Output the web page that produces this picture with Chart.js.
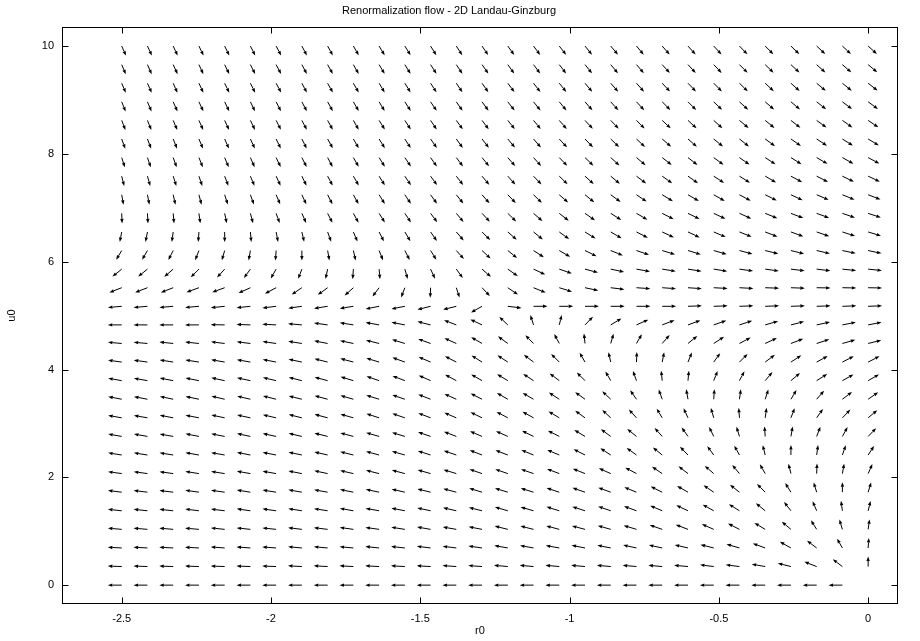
<!DOCTYPE html>
<html>
<head>
<meta charset="utf-8">
<script src="https://cdn.jsdelivr.net/npm/chart.js@4.4.1/dist/chart.umd.min.js"></script>
<style>
html, body { margin: 0; padding: 0; background: #fff; }
#wrap { width: 920px; height: 641px; }
</style>
</head>
<body>
<div id="wrap"><canvas id="grafico" width="920" height="641"></canvas></div>
<script>
// grid of the flow (r0 across, u0 up)
const rVals = [-2.5, -2.4138, -2.3276, -2.2414, -2.1552, -2.069, -1.9828, -1.8966, -1.8103, -1.7241,
  -1.6379, -1.5517, -1.4655, -1.3793, -1.2931, -1.2069, -1.1207, -1.0345, -0.9483, -0.8621,
  -0.7759, -0.6897, -0.6034, -0.5172, -0.431, -0.3448, -0.2586, -0.1724, -0.0862, 0];
const uVals = [0, 0.3448, 0.6897, 1.0345, 1.3793, 1.7241, 2.069, 2.4138, 2.7586, 3.1034,
  3.4483, 3.7931, 4.1379, 4.4828, 4.8276, 5.1724, 5.5172, 5.8621, 6.2069, 6.5517,
  6.8966, 7.2414, 7.5862, 7.931, 8.2759, 8.6207, 8.9655, 9.3103, 9.6552, 10];

// arrow direction (degrees, as seen on the plot) for each row of u0, left to right
const dir_u00 = [180,180,180,180,180,180,180,180,180,180,180,180,180,180,180,180,180,180,180,180,180,180,180,180,180,180,180,180,180,null];
const dir_u01 = [178,178,178,178,178,178,178,177,177,177,177,177,177,176,176,175,175,175,175,175,175,175,175,173,173,170,166,159,143,90];
const dir_u02 = [177,177,177,177,176,176,176,175,175,175,174,174,173,173,172,170,170,170,169,169,168,168,167,166,164,160,151,143,120,86];
const dir_u03 = [175,175,175,175,174,174,174,173,173,172,172,171,170,170,169,166,166,165,165,164,163,161,159,156,153,149,140,122,107,82];
const dir_u04 = [174,174,174,173,173,172,172,171,171,170,170,169,168,167,166,164,164,163,162,161,160,157,155,151,148,141,128,113,98,76];
const dir_u05 = [173,173,173,172,172,171,171,170,170,169,168,167,166,165,163,163,163,162,161,160,158,154,150,146,142,135,122,107,90,73];
const dir_u06 = [172,172,172,171,171,170,170,169,168,167,166,165,164,163,161,161,161,159,158,156,152,146,142,139,130,120,104,88,80,66];
const dir_u07 = [171,171,171,170,170,169,169,168,167,166,165,164,162,161,159,159,158,157,153,147,144,141,134,126,119,104,90,82,71,57];
const dir_u08 = [170,170,170,169,169,168,168,167,166,165,164,163,161,159,157,156,154,153,149,144,141,132,125,116,107,94,80,69,61,46];
const dir_u09 = [170,170,169,169,168,168,167,166,165,164,162,161,159,157,154,152,151,149,144,137,132,121,115,106,94,82,69,55,46,40];
const dir_u10 = [169,169,168,168,167,167,166,166,165,164,163,161,159,156,153,150,150,147,144,137,125,110,100,86,82,72,59,49,37,35];
const dir_u11 = [170,170,169,169,168,168,167,166,165,163,161,159,156,152,150,149,147,143,135,120,110,96,85,68,62,50,40,32,29,30];
const dir_u12 = [172,172,171,171,170,170,169,168,166,165,163,160,157,153,148,147,143,135,120,103,88,79,68,54,45,37,33,29,27,27];
const dir_u13 = [175,175,174,174,173,173,172,171,169,168,166,163,160,156,150,144,135,118,96,74,60,49,39,33,28,25,21,18,16,14];
const dir_u14 = [180,180,180,180,179,178,177,175,172,171,170,169,166,159,155,137,108,76,46,31,24,21,20,19,18,16,14,12,11,11];
const dir_u15 = [-175,-175,-175,-175,-174,-174,-173,-172,-171,-171,-169,-169,-166,-166,-151,-7,0,0,0,0,0,0,2,2,2,2,2,2,2,2];
const dir_u16 = [-159,-159,-159,-160,-160,-156,-152,-146,-144,-138,-127,-111,-92,-72,-47,-34,-22,-17,-12,-7,-4,-4,-4,-3,-3,-2,-2,-1,-1,-1];
const dir_u17 = [-141,-141,-139,-135,-132,-126,-120,-111,-102,-94,-85,-74,-65,-54,-41,-35,-25,-19,-15,-12,-10,-9,-9,-9,-8,-8,-7,-7,-6,-6];
const dir_u18 = [-121,-120,-117,-111,-106,-100,-94,-90,-80,-77,-68,-63,-58,-48,-43,-39,-33,-30,-26,-22,-19,-17,-17,-16,-15,-14,-14,-13,-12,-12];
const dir_u19 = [-101,-101,-98,-94,-90,-85,-79,-77,-70,-67,-63,-59,-55,-49,-45,-41,-39,-36,-32,-30,-27,-25,-25,-23,-22,-21,-20,-19,-18,-17];
const dir_u20 = [-88,-87,-85,-82,-78,-75,-70,-66,-63,-61,-58,-56,-53,-50,-47,-44,-41,-38,-35,-32,-30,-27,-26,-25,-24,-22,-21,-20,-19,-18];
const dir_u21 = [-80,-79,-77,-75,-72,-70,-67,-65,-63,-61,-58,-56,-54,-51,-49,-46,-44,-41,-39,-36,-34,-31,-30,-29,-28,-26,-25,-23,-22,-21];
const dir_u22 = [-76,-74,-72,-71,-69,-67,-65,-64,-62,-60,-58,-56,-54,-52,-50,-48,-46,-44,-42,-40,-37,-35,-35,-33,-32,-30,-28,-27,-26,-25];
const dir_u23 = [-72,-71,-70,-68,-67,-66,-64,-63,-62,-60,-58,-56,-55,-53,-51,-49,-48,-46,-44,-42,-40,-38,-38,-36,-35,-33,-32,-30,-29,-28];
const dir_u24 = [-70,-69,-68,-67,-66,-65,-64,-63,-61,-60,-58,-57,-55,-54,-52,-50,-49,-47,-46,-44,-43,-41,-41,-39,-38,-36,-35,-33,-32,-31];
const dir_u25 = [-69,-68,-67,-66,-65,-64,-63,-62,-61,-60,-58,-57,-56,-54,-53,-51,-50,-49,-47,-46,-45,-43,-43,-42,-40,-39,-38,-36,-35,-34];
const dir_u26 = [-68,-67,-66,-65,-64,-64,-63,-62,-61,-60,-59,-57,-56,-55,-54,-52,-51,-50,-49,-48,-47,-45,-45,-44,-42,-41,-40,-38,-37,-36];
const dir_u27 = [-67,-66,-66,-65,-64,-63,-62,-62,-61,-60,-59,-58,-57,-56,-55,-53,-52,-51,-50,-49,-48,-47,-46,-45,-44,-43,-42,-40,-39,-38];
const dir_u28 = [-67,-66,-65,-65,-64,-63,-62,-62,-61,-60,-59,-58,-57,-56,-55,-54,-53,-52,-51,-50,-49,-48,-47,-46,-45,-44,-43,-42,-41,-40];
const dir_u29 = [-66,-65,-65,-64,-64,-63,-62,-62,-61,-60,-59,-58,-58,-57,-56,-54,-53,-52,-51,-50,-50,-49,-48,-47,-46,-45,-44,-43,-43,-42];

const dirRows = [dir_u00, dir_u01, dir_u02, dir_u03, dir_u04, dir_u05, dir_u06, dir_u07, dir_u08, dir_u09,
  dir_u10, dir_u11, dir_u12, dir_u13, dir_u14, dir_u15, dir_u16, dir_u17, dir_u18, dir_u19,
  dir_u20, dir_u21, dir_u22, dir_u23, dir_u24, dir_u25, dir_u26, dir_u27, dir_u28, dir_u29];

const xTicks = [-2.5, -2, -1.5, -1, -0.5, 0];
const xTickLabels = ['-2.5', '-2', '-1.5', '-1', '-0.5', '0'];
const yTicks = [0, 2, 4, 6, 8, 10];
const yTickLabels = ['0', '2', '4', '6', '8', '10'];

const titulo = 'Renormalization flow - 2D Landau-Ginzburg';
const FONTE = '"Liberation Sans", Arial, Helvetica, sans-serif';
const ARROW_LEN = 0.54;   // arrow length, in grid cells
const HEAD_LEN = 4.5;
const HEAD_W = 1.7;
const TICK = 6;

const pontos = [];
dirRows.forEach((row, j) => {
    row.forEach((a, i) => {
        pontos.push({ x: rVals[i], y: uVals[j], a: a });
    });
});

// draws every vector from its grid point
const setasPlugin = {
    id: 'setas',
    afterDatasetsDraw(chart) {
        const { ctx, chartArea: area, scales: { x, y } } = chart;
        const meta = chart.getDatasetMeta(0);
        const stepR = rVals[1] - rVals[0];
        const stepU = uVals[1] - uVals[0];
        const cellW = Math.abs(x.getPixelForValue(rVals[1]) - x.getPixelForValue(rVals[0]));
        const cellH = Math.abs(y.getPixelForValue(uVals[1]) - y.getPixelForValue(uVals[0]));

        ctx.save();
        ctx.beginPath();
        ctx.rect(area.left, area.top, area.right - area.left, area.bottom - area.top);
        ctx.clip();
        ctx.strokeStyle = '#000';
        ctx.fillStyle = '#000';
        ctx.lineWidth = 1;

        chart.data.datasets[0].data.forEach((p, k) => {
            if (p.a === null) return;
            const t = p.a * Math.PI / 180;
            const gx = Math.cos(t) / cellW;
            const gy = Math.sin(t) / cellH;
            const s = ARROW_LEN / Math.hypot(gx, gy);
            const x0 = meta.data[k].x;
            const y0 = meta.data[k].y;
            const x1 = x.getPixelForValue(p.x + gx * s * stepR);
            const y1 = y.getPixelForValue(p.y + gy * s * stepU);
            const len = Math.hypot(x1 - x0, y1 - y0);
            const ux = (x1 - x0) / len, uy = (y1 - y0) / len;
            const bx = x1 - ux * HEAD_LEN, by = y1 - uy * HEAD_LEN;

            ctx.beginPath();
            ctx.moveTo(x0, y0);
            ctx.lineTo(bx, by);
            ctx.stroke();

            ctx.beginPath();
            ctx.moveTo(x1, y1);
            ctx.lineTo(bx - uy * HEAD_W, by + ux * HEAD_W);
            ctx.lineTo(bx + uy * HEAD_W, by - ux * HEAD_W);
            ctx.closePath();
            ctx.fill();
        });
        ctx.restore();
    }
};

// frame with inward ticks on all four sides
const molduraPlugin = {
    id: 'moldura',
    afterDraw(chart) {
        const { ctx, chartArea: a, scales: { x, y } } = chart;
        const L = Math.round(a.left) + 0.5, R = Math.round(a.right) - 0.5;
        const T = Math.round(a.top) + 0.5, B = Math.round(a.bottom) - 0.5;
        ctx.save();
        ctx.strokeStyle = '#000';
        ctx.lineWidth = 1;
        ctx.strokeRect(L, T, R - L, B - T);
        ctx.beginPath();
        xTicks.forEach(v => {
            const px = Math.round(x.getPixelForValue(v)) + 0.5;
            ctx.moveTo(px, B); ctx.lineTo(px, B - TICK);
            ctx.moveTo(px, T); ctx.lineTo(px, T + TICK);
        });
        yTicks.forEach(v => {
            const py = Math.round(y.getPixelForValue(v)) + 0.5;
            ctx.moveTo(L, py); ctx.lineTo(L + TICK, py);
            ctx.moveTo(R, py); ctx.lineTo(R - TICK, py);
        });
        ctx.stroke();
        ctx.restore();
    }
};

const ctx = document.getElementById('grafico').getContext('2d');
new Chart(ctx, {
    type: 'scatter',
    data: {
        datasets: [{
            label: 'flow',
            data: pontos,
            pointRadius: 0,
            pointHoverRadius: 0,
            showLine: false
        }]
    },
    options: {
        responsive: false,
        animation: false,
        events: [],
        layout: { padding: { left: 0, right: 22, top: 0, bottom: 0 } },
        plugins: {
            legend: { display: false },
            tooltip: { enabled: false },
            title: {
                display: true,
                text: titulo,
                color: '#000',
                font: { family: FONTE, size: 11, weight: 'normal' },
                padding: { top: 4, bottom: 10 }
            }
        },
        scales: {
            x: {
                type: 'linear',
                min: -2.7,
                max: 0.1,
                afterBuildTicks: s => { s.ticks = xTicks.map(v => ({ value: v })); },
                afterFit: s => { s.height = 37; },
                grid: { display: false, drawTicks: false },
                border: { display: false },
                ticks: {
                    color: '#000',
                    font: { family: FONTE, size: 11 },
                    padding: 8,
                    maxRotation: 0,
                    autoSkip: false,
                    callback: (v, i) => xTickLabels[i]
                },
                title: {
                    display: true,
                    text: 'r0',
                    color: '#000',
                    font: { family: FONTE, size: 11 },
                    padding: { top: 0, bottom: 3 }
                }
            },
            y: {
                type: 'linear',
                min: -0.35,
                max: 10.35,
                afterBuildTicks: s => { s.ticks = yTicks.map(v => ({ value: v })); },
                afterFit: s => { s.width = 62; },
                grid: { display: false, drawTicks: false },
                border: { display: false },
                ticks: {
                    color: '#000',
                    font: { family: FONTE, size: 11 },
                    padding: 8,
                    autoSkip: false,
                    callback: (v, i) => yTickLabels[i]
                },
                title: {
                    display: true,
                    text: 'u0',
                    color: '#000',
                    font: { family: FONTE, size: 11 },
                    padding: { top: 5, bottom: 0 }
                }
            }
        }
    },
    plugins: [setasPlugin, molduraPlugin]
});
</script>
</body>
</html>
